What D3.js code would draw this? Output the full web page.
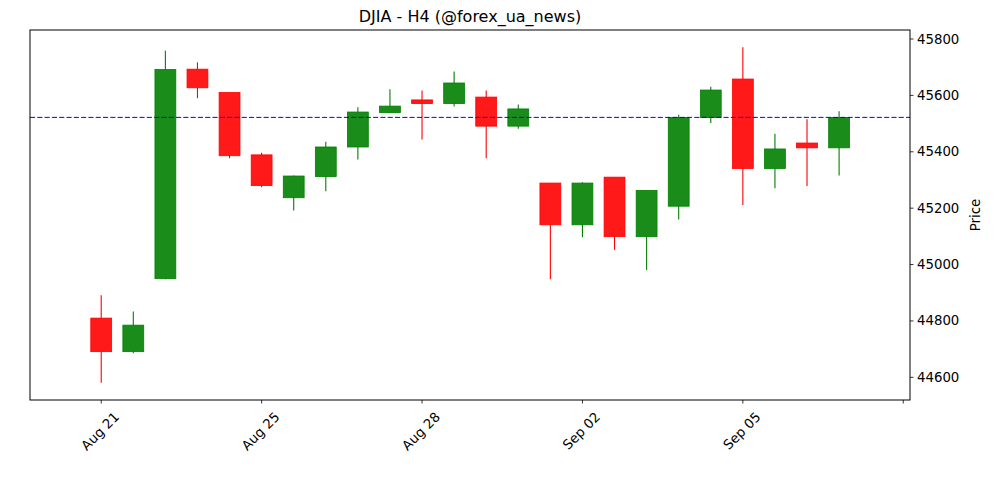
<!DOCTYPE html>
<html lang="en">
<head>
    <meta charset="UTF-8">
    <title>DJIA - H4</title>
    <script src="https://d3js.org/d3.v7.min.js"></script>
    <style>
        body { margin: 0; background: #fff; }
        text { font-family: 'DejaVu Sans', sans-serif; fill: #000; }
    </style>
</head>
<body>
    <div id="chart"></div>

    <script>
        // Candle data, one entry per H4 bar
        const opens  = [44810, 44691, 44950, 45693, 45610, 45389, 45237, 45312, 45417, 45539, 45584, 45571,
                        45594, 45491, 45289, 45141, 45310, 45099, 45207, 45522, 45658, 45341, 45431, 45414];
        const highs  = [44891, 44833, 45758, 45717, 45610, 45397, 45316, 45436, 45558, 45622, 45617, 45685,
                        45617, 45568, 45289, 45292, 45310, 45263, 45531, 45631, 45771, 45464, 45515, 45544];
        const lows   = [44581, 44685, 44948, 45590, 45377, 45274, 45192, 45260, 45373, 45539, 45444, 45561,
                        45377, 45482, 44948, 45097, 45052, 44981, 45160, 45502, 45211, 45271, 45279, 45316];
        const closes = [44691, 44785, 45692, 45627, 45386, 45280, 45314, 45417, 45541, 45562, 45571, 45644,
                        45491, 45552, 45141, 45289, 45099, 45263, 45522, 45619, 45341, 45410, 45414, 45522];

        // x tick positions (bar index) and their labels
        const tickIndex  = [0, 5, 10, 15, 20, 25];
        const tickLabels = ['Aug 21', 'Aug 25', 'Aug 28', 'Sep 02', 'Sep 05', ''];
        const priceTicks = [44600, 44800, 45000, 45200, 45400, 45600, 45800];
        const lastPrice = closes[closes.length - 1];

        const width = 1000, height = 500;
        const m = { left: 30, right: 910, top: 30, bottom: 400 };

        const x = d3.scaleLinear().domain([-2.22, 25.21]).range([m.left, m.right]);
        const y = d3.scaleLinear().domain([44519.5, 45832]).range([m.bottom, m.top]);

        const svg = d3.select('#chart').append('svg')
            .attr('width', width)
            .attr('height', height);

        const bars = opens.map((o, i) => ({ i, o, h: highs[i], l: lows[i], c: closes[i] }));
        const up = d => d.c >= d.o;
        const half = 0.325;

        const plot = svg.append('g');

        // wicks
        plot.selectAll('line.wick')
            .data(bars)
            .enter().append('line')
            .attr('class', 'wick')
            .attr('x1', d => x(d.i)).attr('x2', d => x(d.i))
            .attr('y1', d => y(d.h)).attr('y2', d => y(d.l))
            .style('stroke', d => up(d) ? '#008000' : '#ff0000')
            .style('stroke-width', 1.1);

        // bodies
        plot.selectAll('rect.body')
            .data(bars)
            .enter().append('rect')
            .attr('class', 'body')
            .attr('x', d => x(d.i - half))
            .attr('width', d => x(d.i + half) - x(d.i - half))
            .attr('y', d => y(Math.max(d.o, d.c)))
            .attr('height', d => Math.max(1, y(Math.min(d.o, d.c)) - y(Math.max(d.o, d.c))))
            .style('fill', d => up(d) ? '#198c19' : '#ff1919')
            .style('stroke', d => up(d) ? '#008000' : '#ff0000')
            .style('stroke-width', 0.8);

        // last price line
        svg.append('line')
            .attr('x1', m.left).attr('x2', m.right)
            .attr('y1', y(lastPrice)).attr('y2', y(lastPrice))
            .style('stroke', '#0000ff')
            .style('stroke-width', 1)
            .style('stroke-dasharray', '5.1,2.2');

        // frame
        svg.append('rect')
            .attr('x', m.left).attr('y', m.top)
            .attr('width', m.right - m.left).attr('height', m.bottom - m.top)
            .style('fill', 'none')
            .style('stroke', '#000')
            .style('stroke-width', 1);

        // x axis
        const xAxis = svg.append('g');
        xAxis.selectAll('line')
            .data(tickIndex)
            .enter().append('line')
            .attr('x1', d => x(d)).attr('x2', d => x(d))
            .attr('y1', m.bottom).attr('y2', m.bottom + 3.5)
            .style('stroke', '#000').style('stroke-width', 0.8);

        const xl = xAxis.selectAll('text')
            .data(tickIndex)
            .enter().append('text')
            .attr('text-anchor', 'middle')
            .attr('dominant-baseline', 'central')
            .style('font-size', '13.3px')
            .text((d, k) => tickLabels[k]);
        xl.attr('transform', function (d) {
            const w = this.getComputedTextLength();
            const side = (w + 16) * Math.SQRT1_2;
            return `translate(${x(d) - 1},${m.bottom + 9 + side / 2}) rotate(-45)`;
        });

        // y axis (right side)
        const yAxis = svg.append('g');
        yAxis.selectAll('line')
            .data(priceTicks)
            .enter().append('line')
            .attr('x1', m.right).attr('x2', m.right + 3.5)
            .attr('y1', d => y(d)).attr('y2', d => y(d))
            .style('stroke', '#000').style('stroke-width', 0.8);
        yAxis.selectAll('text')
            .data(priceTicks)
            .enter().append('text')
            .attr('x', m.right + 7)
            .attr('y', d => y(d))
            .attr('dominant-baseline', 'central')
            .style('font-size', '13.3px')
            .text(d => d);

        svg.append('text')
            .attr('transform', `translate(975.5,${(m.top + m.bottom) / 2}) rotate(-90)`)
            .attr('text-anchor', 'middle')
            .attr('dominant-baseline', 'central')
            .style('font-size', '13.3px')
            .text('Price');

        // title
        svg.append('text')
            .attr('x', (m.left + m.right) / 2)
            .attr('y', 22)
            .attr('text-anchor', 'middle')
            .style('font-size', '16px')
            .text('DJIA - H4 (@forex_ua_news)');
    </script>
</body>
</html>
